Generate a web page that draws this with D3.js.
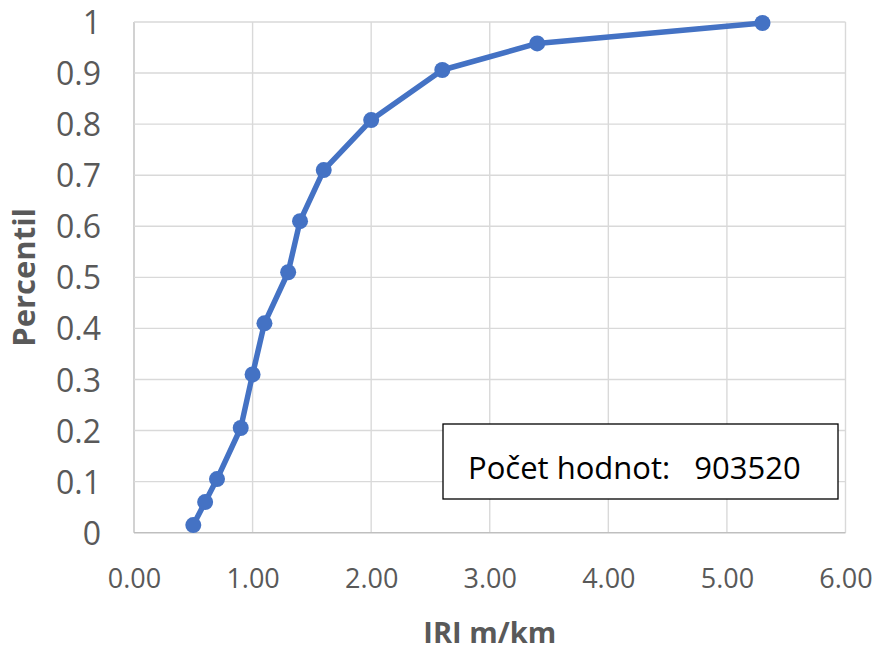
<!DOCTYPE html>
<html><head><meta charset="utf-8">
<script src="https://cdn.jsdelivr.net/npm/d3@7"></script>
<style>body{margin:0;background:#fff}svg{display:block}</style>
</head><body><svg id="c" width="879" height="653"></svg>
<script>
const iri = [0.5, 0.6, 0.7, 0.9, 1.0, 1.1, 1.3, 1.4, 1.6, 2.0, 2.6, 3.4, 5.3];
const percentil = [0.015, 0.06, 0.105, 0.205, 0.31, 0.41, 0.51, 0.61, 0.71, 0.808, 0.906, 0.958, 0.998];
const xTicks = [0, 1, 2, 3, 4, 5, 6];
const yTicks = [0, 0.1, 0.2, 0.3, 0.4, 0.5, 0.6, 0.7, 0.8, 0.9, 1];
const xTitle = "IRI m/km";
const yTitle = "Percentil";
const boxText = "Počet hodnot:   903520";

const svg = d3.select("#c");
const L = 134, R = 845.5, T = 22, B = 532.7;
const x = d3.scaleLinear().domain([0, 6]).range([L, R]);
const y = d3.scaleLinear().domain([0, 1]).range([B, T]);
const font = "'Open Sans', sans-serif";

// grid
svg.append("g").selectAll("line").data(xTicks).join("line")
  .attr("x1", d => x(d)).attr("x2", d => x(d)).attr("y1", T).attr("y2", B)
  .attr("stroke", d => d === 0 ? "#bfbfbf" : "#d9d9d9").attr("stroke-width", 1.4);
svg.append("g").selectAll("line").data(yTicks).join("line")
  .attr("y1", d => y(d)).attr("y2", d => y(d)).attr("x1", L).attr("x2", R)
  .attr("stroke", d => d === 0 ? "#bfbfbf" : "#d9d9d9").attr("stroke-width", 1.4);

// x axis labels
const xa = svg.append("g").attr("transform", `translate(0,${B})`)
  .call(d3.axisBottom(x).tickValues(xTicks).tickFormat(d3.format(".2f")).tickSize(0).tickPadding(0));
xa.select(".domain").remove();
xa.selectAll("text").attr("font-family", font).attr("font-size", 27).attr("fill", "#595959")
  .attr("dy", null).attr("y", 55);

// y axis labels
const ya = svg.append("g").attr("transform", `translate(${L},0)`)
  .call(d3.axisLeft(y).tickValues(yTicks).tickFormat(d => d3.format("")(+d.toFixed(1))).tickSize(0).tickPadding(0));
ya.select(".domain").remove();
ya.selectAll("text").attr("font-family", font).attr("font-size", 32).attr("fill", "#595959")
  .attr("x", -33).attr("dy", "0.36em");

// titles
svg.append("text").attr("x", (L + R) / 2).attr("y", 643).attr("text-anchor", "middle")
  .attr("font-family", font).attr("font-weight", "bold").attr("font-size", 29).attr("fill", "#595959")
  .text(xTitle);
svg.append("text").attr("transform", `translate(35,${(T + B) / 2}) rotate(-90)`).attr("text-anchor", "middle")
  .attr("font-family", font).attr("font-weight", "bold").attr("font-size", 31).attr("fill", "#595959")
  .text(yTitle);

// line
const pts = iri.map((v, i) => [v, percentil[i]]);
svg.append("path").datum(pts)
  .attr("d", d3.line().x(d => x(d[0])).y(d => y(d[1])))
  .attr("fill", "none").attr("stroke", "#4472C4").attr("stroke-width", 5.5).attr("stroke-linejoin", "round");
svg.append("g").selectAll("circle").data(pts).join("circle")
  .attr("cx", d => x(d[0])).attr("cy", d => y(d[1])).attr("r", 8).attr("fill", "#4472C4");

// annotation box
svg.append("rect").attr("x", 443).attr("y", 424).attr("width", 395).attr("height", 75)
  .attr("fill", "#fff").attr("stroke", "#000").attr("stroke-width", 1.3);
svg.append("text").attr("x", 468).attr("y", 479).attr("font-family", font).attr("font-size", 31)
  .attr("fill", "#000").attr("xml:space", "preserve").style("white-space", "pre").text(boxText);
</script></body></html>
